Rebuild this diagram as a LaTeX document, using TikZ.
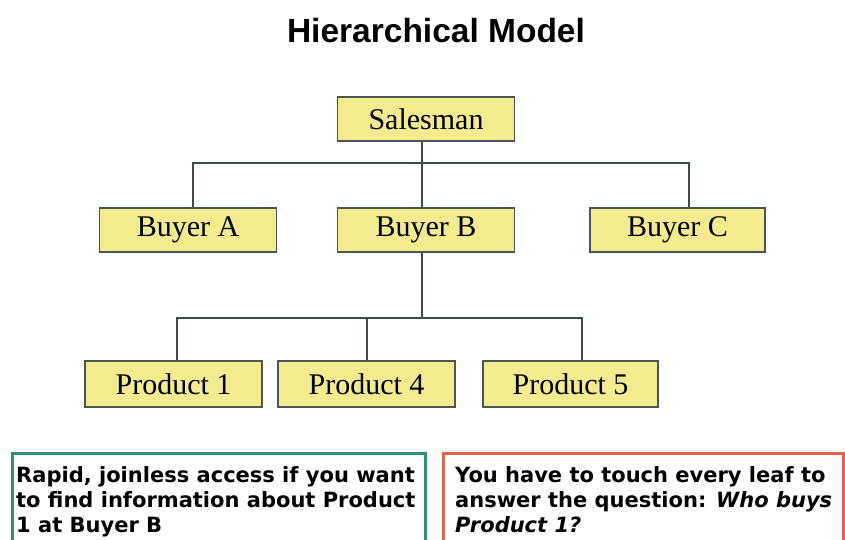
\documentclass[tikz,border=0pt]{standalone}
\usepackage{fontspec}
\setmainfont{Liberation Serif}
\newfontfamily\titlefont{Liberation Sans}
\newfontfamily\notefont{DejaVu Sans}
\definecolor{boxfill}{HTML}{F3EC8E}
\definecolor{boxedge}{HTML}{4A5656}
\definecolor{linecol}{HTML}{3E4C4C}
\definecolor{greenedge}{HTML}{2B9373}
\definecolor{rededge}{HTML}{E0634E}
\tikzset{
  entity/.style={draw=boxedge, line width=1.8pt, fill=boxfill, minimum width=177pt, minimum height=44pt, inner sep=0pt, font=\fontsize{30}{34}\selectfont},
  link/.style={draw=linecol, line width=1.5pt},
  notetext/.style={anchor=north west, inner sep=0pt, align=left, font=\notefont\bfseries\fontsize{21}{25}\selectfont},
  notebox/.style={line width=3pt}
}
\begin{document}
\begin{tikzpicture}[x=1pt,y=-1pt]
\useasboundingbox (0,0) rectangle (845,539);
\clip (0,0) rectangle (845,539);
\fill[white] (0,0) rectangle (845,539);
\node[anchor=base, inner sep=0pt, font=\titlefont\bfseries\fontsize{33.5}{38}\selectfont] (title) at (436,42) {Hierarchical Model};
\node[entity] (sales) at (426,119) {Salesman};
\node[entity] (buyA) at (188,230) {Buyer A};
\node[entity] (buyB) at (426,230) {Buyer B};
\node[entity, minimum width=175pt] (buyC) at (677.5,230) {Buyer C};
\node[entity, minimum height=46pt] (p1) at (173.5,384) {Product 1};
\node[entity, minimum height=46pt] (p4) at (366.5,384) {Product 4};
\node[entity, minimum height=46pt, minimum width=175pt] (p5) at (570.5,384) {Product 5};
\coordinate (bus1) at (422,163);
\coordinate (bus2) at (422,318);
\draw[link] ([xshift=-4pt]sales.south) -- ([xshift=-4pt]buyB.north);
\draw[link] ([xshift=5pt]buyA.north) |- (bus1) -| ([xshift=11.5pt]buyC.north);
\draw[link] ([xshift=-4pt]buyB.south) -- (bus2);
\draw[link] ([xshift=3.5pt]p1.north) |- (bus2) -| ([xshift=11.5pt]p5.north);
\draw[link] ([xshift=0.5pt]p4.north) -- ([xshift=0.5pt]p4.north |- bus2);
\draw[notebox, draw=greenedge] (12,453) rectangle (425,560);
\draw[notebox, draw=rededge] (443,453) rectangle (843,560);
\node[notetext] (leftnote) at (16,466) {Rapid, joinless access if you want\\to find information about Product\\1 at Buyer B};
\node[notetext] (rightnote) at (455,466) {You have to touch every leaf to\\answer the question: \textit{Who buys}\\\textit{Product 1?}};
\end{tikzpicture}
\end{document}
